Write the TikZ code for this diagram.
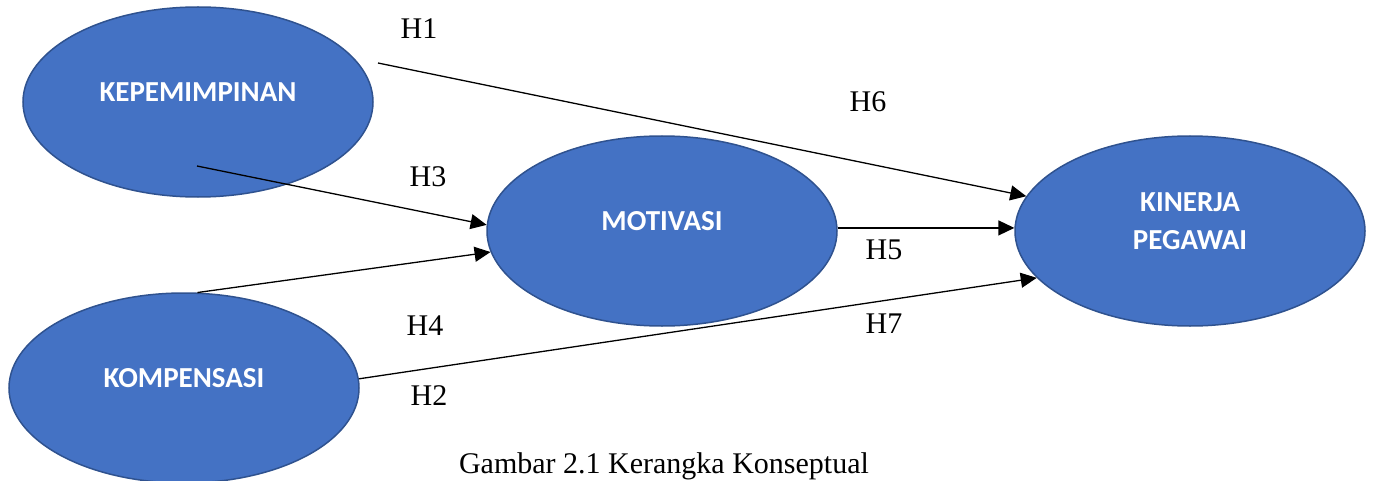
\documentclass[tikz,border=0pt]{standalone}
\usepackage{fontspec}
\setmainfont{Liberation Serif}
\newfontfamily\varfont{Carlito}
\usetikzlibrary{arrows.meta}
\usetikzlibrary{shapes.geometric}

\definecolor{varblue}{HTML}{4472C4}
\definecolor{varedge}{HTML}{2F528F}

\tikzset{
	var/.style={ellipse, draw=varedge, line width=0.75pt, fill=varblue, minimum width=175pt, minimum height=95pt, inner sep=0pt},
	vartext/.style={text=white, font=\varfont\bfseries\fontsize{14.5}{19.25}\selectfont, align=center, inner sep=0pt, yshift=5pt},
	arr/.style={line width=0.65pt, -{Triangle[length=8pt, width=7.5pt]}},
	hyp/.style={font=\fontsize{15}{18}\selectfont, inner sep=0pt}
}

\begin{document}
\begin{tikzpicture}[x=0.5pt, y=-0.5pt]

						\useasboundingbox (0, 0) rectangle (1376, 481);

						\node[var, label={[vartext, name=kepl]center:KEPEMIMPINAN}] (kep) at (198, 102) {};
						\node[var, label={[vartext, name=kompl]center:KOMPENSASI}] (komp) at (184, 388) {};
						\node[var, label={[vartext, name=motl]center:MOTIVASI}] (mot) at (662, 231) {};
						\node[var, label={[vartext, name=kinl]center:KINERJA\\PEGAWAI}] (kin) at (1190, 231) {};

						\coordinate(h1s) at (378, 63);
						\coordinate(h3s) at (197, 166);

						\draw[arr] (h1s)--(kin.168);
						\draw[arr] (h3s)--(mot.178);
						\draw[arr] (komp.82)--(mot.187);
						\draw[arr] (mot.1)--(kin.179);
						\draw[arr] (komp.3)--(kin.197);

						\node[hyp] (h1) at (419, 29) {H1};
						\node[hyp] (h6) at (868, 102) {H6};
						\node[hyp] (h3) at (428, 177) {H3};
						\node[hyp] (h5) at (884, 250) {H5};
						\node[hyp] (h4) at (425, 326) {H4};
						\node[hyp] (h7) at (884, 324) {H7};
						\node[hyp] (h2) at (429, 396) {H2};

						\node[hyp, anchor=base] (cap) at (664, 473) {Gambar 2.1 Kerangka Konseptual};
					\end{tikzpicture}
\end{document}
